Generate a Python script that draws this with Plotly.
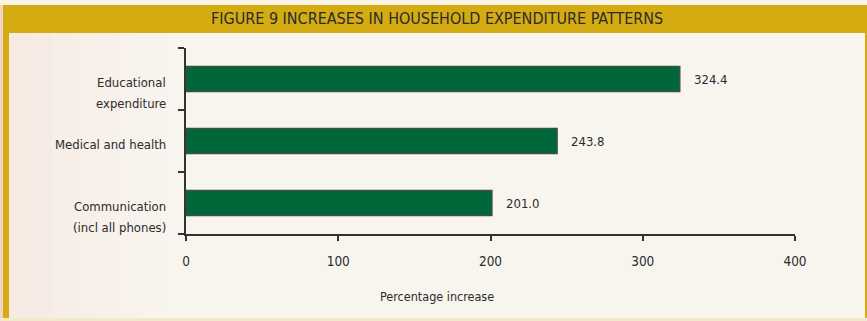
import plotly.graph_objects as go

# Survey results: percentage increase in household spending by category
categories = ["Educational<br>expenditure", "Medical and health", "Communication<br>(incl all phones)"]
increase = [324.4, 243.8, 201.0]
value_labels = ["324.4", "243.8", "201.0"]
x_ticks = [0, 100, 200, 300, 400]

W, H = 867, 321
L, R, T, B = 186, 72, 48, 87
PW, PH = W - L - R, H - T - B

FONT = "DejaVu Sans Condensed, Liberation Sans Narrow, Liberation Sans, sans-serif"
GOLD = "#D4AC12"
PANEL = "#F8F5EF"
GREEN = "#006739"
INK = "#2B2B2B"
LINE_GAP = 21  # spacing between lines of a category label, px


def px_x(px):
    return (px - L) / PW


def px_y(py):
    return (H - B - py) / PH


fig = go.Figure(
    go.Bar(
        x=increase,
        y=[0, 1, 2],
        orientation="h",
        width=0.41,
        marker=dict(color=GREEN, line=dict(color="#4A4A4A", width=1.2)),
        hoverinfo="skip",
    )
)

shapes = []
# soft warm tint on the far left, fading inward
for i, op in enumerate([0.28, 0.22, 0.17, 0.13, 0.09, 0.06, 0.03]):
    shapes.append(dict(type="rect", xref="paper", yref="paper",
                       x0=px_x(9 + i * 22), x1=px_x(9 + (i + 1) * 22),
                       y0=px_y(318), y1=px_y(33),
                       fillcolor=f"rgba(240,205,195,{op})", line_width=0, layer="below"))
shapes += [
    # page edge around the frame
    dict(type="rect", xref="paper", yref="paper", x0=px_x(0), x1=px_x(3),
         y0=px_y(H), y1=px_y(0), fillcolor="#F1D2C4", line_width=0, layer="below"),
    dict(type="rect", xref="paper", yref="paper", x0=px_x(0), x1=px_x(W),
         y0=px_y(5), y1=px_y(0), fillcolor="#FBF4E6", line_width=0, layer="below"),
    dict(type="rect", xref="paper", yref="paper", x0=px_x(0), x1=px_x(W),
         y0=px_y(H), y1=px_y(318), fillcolor="#F5E8C8", line_width=0, layer="below"),
    # gold frame: header band and side strips
    dict(type="rect", xref="paper", yref="paper", x0=px_x(3), x1=px_x(W),
         y0=px_y(33), y1=px_y(5), fillcolor=GOLD, line_width=0, layer="below"),
    dict(type="rect", xref="paper", yref="paper", x0=px_x(3), x1=px_x(9),
         y0=px_y(318), y1=px_y(33), fillcolor=GOLD, line_width=0, layer="below"),
    dict(type="rect", xref="paper", yref="paper", x0=px_x(865), x1=px_x(W),
         y0=px_y(318), y1=px_y(33), fillcolor=GOLD, line_width=0, layer="below"),
]

annotations = [
    dict(text="FIGURE 9 INCREASES IN HOUSEHOLD EXPENDITURE PATTERNS",
         xref="paper", yref="paper", x=px_x(437), y=px_y(19),
         xanchor="center", yanchor="middle", showarrow=False,
         font=dict(family=FONT, size=16, color=INK)),
    dict(text="Percentage increase", xref="paper", yref="paper",
         x=px_x(437), y=px_y(296), xanchor="center", yanchor="middle",
         showarrow=False, font=dict(family=FONT, size=12.5, color=INK)),
]
# category labels, first line level with the bar, further lines below
for i, c in enumerate(categories):
    for j, line in enumerate(c.split("<br>")):
        annotations.append(dict(text=line, xref="paper", yref="y", x=px_x(168), y=i,
                                xanchor="right", yanchor="middle",
                                yshift=-3 - LINE_GAP * j, showarrow=False,
                                font=dict(family=FONT, size=13, color=INK)))
# value labels just beyond each bar end
for i, (v, t) in enumerate(zip(increase, value_labels)):
    annotations.append(dict(text=t, xref="x", yref="y", x=v, y=i,
                            xanchor="left", yanchor="middle", xshift=12,
                            showarrow=False,
                            font=dict(family=FONT, size=13, color=INK)))

fig.update_layout(
    width=W, height=H,
    margin=dict(l=L, r=R, t=T, b=B, pad=0),
    paper_bgcolor=PANEL,
    plot_bgcolor=PANEL,
    showlegend=False,
    shapes=shapes,
    annotations=annotations,
    xaxis=dict(range=[0, 400], tickvals=x_ticks, ticktext=[str(v) for v in x_ticks],
               showgrid=False, zeroline=False, showline=True, linecolor="#333333",
               linewidth=1.5, ticks="outside", ticklen=5, tickcolor="#333333",
               tickwidth=1.5, tickfont=dict(family=FONT, size=13.5, color=INK),
               ticklabelstandoff=9, fixedrange=True),
    yaxis=dict(range=[2.5, -0.5], tickvals=[-0.5, 0.5, 1.5, 2.5], ticktext=["", "", "", ""],
               showgrid=False, zeroline=False, showline=True, linecolor="#333333",
               linewidth=1.5, ticks="outside", ticklen=6, tickcolor="#333333",
               tickwidth=1.5, fixedrange=True),
)

fig.write_html("out.html")
